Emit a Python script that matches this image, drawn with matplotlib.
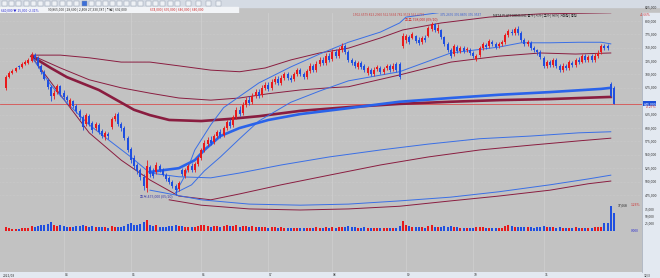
import matplotlib
matplotlib.use('Agg')
import matplotlib.pyplot as plt
import numpy as np
from matplotlib.patches import Rectangle

plt.rcParams['font.family'] = ['Noto Sans CJK KR', 'DejaVu Sans']

# 일봉 시가/고가/저가/종가 (천원), 거래량 (천주)
opens = [675, 695, 703, 706, 716, 714, 719, 721, 725, 736,
         731, 716, 705, 690, 677, 660, 667, 678, 665, 658,
         641, 650, 641, 632, 621, 607, 622, 609, 600, 606,
         594, 583, 589, 602, 617, 626, 607, 600, 581, 561,
         544, 531, 522, 509, 488, 527, 518, 518, 529, 522,
         512, 507, 499, 492, 486, 522, 510, 522, 529, 522,
         533, 544, 559, 570, 578, 574, 585, 593, 587, 600,
         611, 606, 621, 634, 628, 643, 652, 649, 660, 667,
         662, 675, 680, 675, 686, 692, 684, 693, 701, 693,
         692, 701, 708, 701, 695, 706, 716, 708, 719, 727,
         721, 734, 729, 742, 734, 746, 753, 742, 727, 723,
         714, 721, 716, 703, 708, 701, 710, 712, 705, 712,
         716, 710, 719, 719, 753, 764, 770, 768, 772, 764,
         760, 768, 772, 785, 794, 781, 783, 770, 757, 746,
         738, 751, 744, 749, 746, 746, 740, 729, 736, 749,
         755, 753, 760, 757, 753, 757, 760, 774, 779, 777,
         785, 777, 764, 757, 759, 749, 746, 742, 731, 716,
         723, 718, 727, 716, 708, 716, 712, 721, 718, 727,
         723, 734, 727, 734, 727, 734, 742, 753, 753, 682,
         675]
highs = [699, 706, 710, 714, 718, 723, 727, 731, 742, 740,
         734, 719, 708, 693, 680, 671, 682, 680, 671, 662,
         656, 652, 645, 635, 624, 628, 626, 613, 611, 609,
         598, 594, 593, 621, 628, 630, 611, 604, 585, 565,
         550, 535, 525, 514, 540, 531, 525, 537, 533, 525,
         516, 510, 503, 496, 501, 525, 525, 533, 535, 537,
         548, 563, 578, 583, 585, 589, 596, 598, 604, 615,
         617, 624, 639, 641, 649, 658, 660, 665, 673, 673,
         680, 686, 686, 692, 697, 697, 699, 705, 705, 699,
         705, 712, 712, 705, 710, 721, 719, 725, 733, 733,
         740, 740, 747, 747, 751, 759, 757, 746, 731, 727,
         725, 725, 719, 716, 712, 714, 718, 716, 714, 719,
         719, 721, 723, 723, 777, 775, 774, 779, 774, 770,
         772, 774, 790, 798, 796, 794, 785, 772, 760, 749,
         757, 755, 753, 753, 751, 749, 744, 738, 753, 760,
         759, 766, 764, 760, 760, 764, 777, 785, 785, 789,
         790, 781, 768, 764, 762, 753, 747, 746, 734, 727,
         727, 731, 731, 719, 721, 719, 727, 725, 731, 733,
         738, 738, 736, 738, 740, 746, 757, 757, 757, 686,
         678]
lows = [671, 693, 701, 705, 710, 712, 718, 719, 723, 727,
        712, 701, 690, 673, 650, 654, 664, 660, 654, 649,
        637, 637, 628, 615, 596, 604, 604, 591, 596, 589,
        581, 578, 580, 598, 613, 604, 594, 578, 555, 535,
        524, 514, 503, 484, 481, 509, 507, 514, 518, 510,
        501, 496, 488, 475, 482, 510, 507, 518, 518, 518,
        529, 540, 555, 566, 568, 570, 581, 581, 583, 596,
        600, 602, 617, 622, 624, 639, 643, 645, 656, 656,
        658, 671, 669, 671, 682, 680, 680, 690, 690, 686,
        688, 697, 697, 692, 692, 703, 705, 705, 716, 718,
        718, 723, 725, 731, 731, 742, 738, 723, 718, 712,
        710, 710, 705, 699, 697, 697, 706, 701, 701, 708,
        705, 706, 705, 692, 749, 759, 757, 766, 759, 755,
        757, 760, 770, 781, 779, 777, 766, 753, 742, 731,
        734, 740, 740, 740, 742, 736, 731, 725, 733, 746,
        747, 749, 753, 747, 749, 753, 757, 770, 774, 774,
        774, 760, 753, 753, 746, 742, 736, 729, 712, 712,
        714, 714, 712, 705, 705, 708, 708, 714, 714, 719,
        721, 723, 723, 723, 723, 731, 738, 746, 746, 658,
        645]
closes = [695, 703, 706, 712, 714, 719, 723, 727, 736, 731,
          716, 705, 692, 677, 660, 665, 678, 664, 658, 652,
          652, 641, 632, 621, 602, 624, 607, 596, 607, 593,
          585, 591, 585, 617, 622, 607, 600, 581, 559, 540,
          529, 520, 509, 492, 529, 514, 510, 531, 522, 512,
          505, 499, 492, 484, 497, 514, 522, 529, 522, 533,
          544, 559, 572, 578, 572, 585, 593, 585, 600, 611,
          604, 621, 634, 626, 643, 652, 647, 660, 667, 660,
          675, 680, 673, 686, 692, 684, 693, 701, 693, 690,
          701, 708, 701, 695, 706, 716, 708, 719, 727, 721,
          734, 727, 742, 734, 746, 753, 742, 727, 721, 716,
          721, 714, 708, 712, 701, 708, 714, 705, 710, 716,
          708, 716, 708, 695, 772, 772, 760, 775, 762, 759,
          768, 764, 787, 794, 783, 787, 770, 757, 746, 734,
          753, 744, 749, 744, 747, 740, 734, 734, 749, 757,
          751, 762, 757, 751, 757, 760, 774, 781, 777, 785,
          777, 764, 757, 760, 749, 746, 742, 733, 716, 723,
          718, 727, 716, 708, 716, 712, 723, 718, 727, 723,
          734, 727, 733, 727, 734, 740, 753, 749, 749, 660,
          645]
volumes = [12, 9, 8, 8, 7, 9, 10, 11, 16, 14,
           18, 20, 22, 24, 30, 22, 18, 20, 16, 14,
           15, 14, 16, 18, 22, 17, 14, 16, 13, 15,
           14, 12, 11, 16, 13, 12, 14, 18, 24, 26,
           22, 20, 24, 30, 36, 22, 18, 20, 15, 14,
           15, 16, 17, 20, 18, 16, 14, 13, 12, 14,
           16, 20, 22, 18, 15, 17, 16, 14, 18, 20,
           16, 18, 20, 15, 18, 17, 14, 16, 15, 13,
           14, 12, 11, 13, 12, 10, 12, 11, 9, 10,
           11, 10, 9, 10, 9, 11, 10, 12, 11, 10,
           12, 10, 13, 11, 12, 14, 15, 16, 13, 12,
           11, 10, 12, 11, 10, 9, 10, 11, 10, 9,
           10, 9, 11, 18, 34, 22, 16, 14, 12, 13,
           12, 11, 16, 20, 15, 13, 14, 16, 15, 17,
           14, 12, 11, 10, 9, 11, 10, 12, 13, 12,
           10, 11, 10, 9, 10, 11, 18, 22, 16, 15,
           13, 15, 14, 12, 13, 11, 12, 14, 18, 15,
           12, 13, 11, 12, 10, 9, 11, 10, 12, 10,
           11, 10, 9, 10, 12, 14, 14, 26, 28, 85,
           62]

# 월 구분 (봉 번호)
month_idx = [18, 39, 61, 82, 102, 125, 146, 168]
month_lbl = ['04', '05', '06', '07', '08', '09', '10', '11']
first_lbl = '2021/03'

# 지표선 (봉 번호, 천원)
m_up_x = [8, 17, 26, 36, 45, 54, 64, 73, 81, 89, 98, 107, 117, 124, 136, 151, 167, 189]
m_up_y = [736, 736, 731, 723, 723, 716, 708, 705, 712, 727, 740, 749, 768, 783, 796, 807, 813, 815]
m_mid_x = [8, 17, 26, 36, 45, 54, 64, 73, 82, 92, 101, 107, 123, 139, 154, 167, 178, 189]
m_mid_y = [736, 712, 690, 675, 665, 656, 652, 656, 664, 671, 675, 677, 699, 723, 734, 740, 738, 740]
m_thick_x = [8, 14, 19, 29, 40, 45, 51, 61, 70, 79, 92, 107, 123, 139, 154, 170, 189]
m_thick_y = [734, 712, 695, 671, 634, 624, 615, 613, 617, 622, 632, 639, 645, 649, 652, 654, 658]
m_low1_x = [8, 17, 26, 36, 45, 54, 64, 73, 86, 101, 117, 132, 148, 164, 179, 189]
m_low1_y = [733, 662, 591, 540, 503, 473, 466, 477, 494, 512, 531, 546, 559, 568, 576, 581]
m_low2_x = [51, 61, 76, 92, 107, 123, 139, 154, 170, 182, 189]
m_low2_y = [466, 456, 449, 447, 449, 454, 464, 473, 484, 496, 501]

b_thick_x = [45, 50, 54, 59, 62, 67, 73, 82, 92, 107, 123, 139, 154, 170, 186, 189]
b_thick_y = [518, 522, 525, 540, 559, 585, 600, 615, 626, 637, 649, 656, 662, 667, 673, 675]
b_low1_x = [8, 14, 19, 26, 32, 39, 45, 54, 64, 73, 86, 101, 117, 132, 148, 164, 179, 189]
b_low1_y = [733, 680, 647, 606, 578, 546, 516, 509, 507, 516, 531, 546, 559, 570, 580, 585, 591, 593]
b_low2_x = [45, 61, 76, 92, 107, 123, 139, 154, 170, 182, 189]
b_low2_y = [484, 466, 458, 456, 458, 464, 471, 481, 494, 505, 512]
b_up1_x = [53, 58, 62, 67, 73, 79, 89, 98, 107, 123, 139, 154, 161, 170, 179, 186, 189]
b_up1_y = [479, 494, 520, 546, 580, 613, 648, 669, 688, 705, 740, 751, 759, 759, 760, 760, 757]
b_up2_x = [53, 56, 59, 64, 68, 73, 79, 89, 98, 107, 117, 123, 125, 135, 145, 161, 189]
b_up2_y = [479, 512, 559, 606, 638, 659, 684, 714, 738, 760, 779, 796, 807, 815, 828, 835, 835]

RED = '#e8191c'
BLUE = '#1f4fe0'
MAROON = '#8a1d40'
LBLUE = '#3a6fe6'
BG = '#c2c2c2'
PANEL = '#e3e9f1'

o = np.array(opens, float)
h = np.array(highs, float)
l = np.array(lows, float)
c = np.array(closes, float)
v = np.array(volumes, float)
n = len(c)
x = np.arange(n)
cols = np.where(c >= o, RED, BLUE)


def fx(p):
    return p / 660.0


def fy(p):
    return 1 - p / 278.0


fig = plt.figure(figsize=(6.6, 2.78), dpi=100, facecolor=BG)

# 배경 패널 (축보다 아래에)
fig.patches.append(Rectangle((fx(642), fy(272)), fx(18), 259 / 278.0,
                             transform=fig.transFigure, color=PANEL, zorder=-5))
fig.patches.append(Rectangle((0, 0), 1, 6 / 278.0, transform=fig.transFigure,
                             color=PANEL, zorder=-5))
fig.patches.append(Rectangle((0, fy(7)), 1, 7 / 278.0, transform=fig.transFigure,
                             color='#d5dbe4', zorder=-5))
fig.patches.append(Rectangle((0, fy(13)), fx(238), 6 / 278.0,
                             transform=fig.transFigure, color='#f2f4f7', zorder=-5))

ax = fig.add_axes([0, fy(272), fx(642), 259 / 278.0])
ax.set_facecolor(BG)
ax.set_xlim(-1.875, 198.75)
ax.set_ylim(331.3, 814.6)
for s in ax.spines.values():
    s.set_visible(False)
ax.set_xticks([])
ax.set_yticks([])

vax = fig.add_axes([0, fy(232), fx(642), 29 / 278.0])
vax.patch.set_alpha(0)
vax.set_xlim(ax.get_xlim())
vax.set_ylim(-3.4, 95.4)
vax.axis('off')

# 격자
for p in range(475, 826, 25):
    ax.axhline(p, color='#cfcfcf', lw=0.4, ls=(0, (1, 1.5)), zorder=0)
for m in month_idx:
    ax.axvline(m, color='#d0d0d0', lw=0.5, zorder=0)

# 지표선
ax.plot(m_up_x, m_up_y, color=MAROON, lw=0.7, zorder=2)
ax.plot(m_mid_x, m_mid_y, color=MAROON, lw=0.7, zorder=2)
ax.plot(m_low1_x, m_low1_y, color=MAROON, lw=0.7, zorder=2)
ax.plot(m_low2_x, m_low2_y, color=MAROON, lw=0.7, zorder=2)
ax.plot(m_thick_x, m_thick_y, color=MAROON, lw=1.9, zorder=2)
ax.plot(b_up1_x, b_up1_y, color=LBLUE, lw=0.7, zorder=2)
ax.plot(b_up2_x, b_up2_y, color=LBLUE, lw=0.7, zorder=2)
ax.plot(b_low1_x, b_low1_y, color=LBLUE, lw=0.7, zorder=2)
ax.plot(b_low2_x, b_low2_y, color=LBLUE, lw=0.7, zorder=2)
ax.plot(b_thick_x, b_thick_y, color='#2a63ea', lw=1.9, zorder=2)

# 현재가 라인
ax.axhline(c[-1], color='#d85050', lw=0.6, zorder=1)

# 캔들
ax.vlines(x, l, h, colors=cols, lw=0.6, zorder=3)
ax.bar(x, np.maximum(np.abs(c - o), 1.3), bottom=np.minimum(o, c),
       width=0.66, color=cols, linewidth=0, zorder=4)

# 거래량
vax.bar(x, v, width=0.66, color=cols, linewidth=0)

# 최고 / 최저 표시
hi = int(np.argmax(h))
lo = int(np.argmin(l))
ax.text(hi + 2, h[hi] + 1, '최고 %d,000 (09/10)' % h[hi], fontsize=2.6,
        color='#d02828', ha='right', va='bottom', zorder=5)
ax.text(lo - 1, l[lo] - 2, '최저 %d,000 (05/20)' % l[lo], fontsize=2.6,
        color='#3838a8', ha='right', va='center', zorder=5)

# 오른쪽 가격축
fig.lines.append(plt.Line2D([fx(642), fx(642)], [fy(272), fy(13)],
                            transform=fig.transFigure, color='#8d96a3', lw=0.4))
ytr = ax.get_yaxis_transform()
for p in range(475, 826, 25):
    if abs(p - c[-1]) < 12:
        continue
    ax.text(1.004, p, '{:,}'.format(p * 1000), transform=ytr, fontsize=2.5,
            color='#303030', va='center', ha='left', clip_on=False)
ax.text(1.002, c[-1], '{:,}'.format(int(c[-1]) * 1000), transform=ytr,
        fontsize=2.6, color='white', va='center', ha='left', clip_on=False,
        bbox=dict(boxstyle='square,pad=0.15', fc='#1d4fd8', ec='none'))
ax.text(1.006, c[-1] - 6.5, '-2.27%', transform=ytr, fontsize=2.3,
        color='#d02828', va='center', ha='left', clip_on=False)

vtr = vax.get_yaxis_transform()
for q in [25, 50, 75]:
    vax.text(1.004, q, '{:,}'.format(q * 1000), transform=vtr, fontsize=2.4,
             color='#303030', va='center', ha='left', clip_on=False)
vax.text(0.995, 0, '0.000', transform=vtr, fontsize=2.4, color='#2a2ad0',
         va='center', ha='right', clip_on=False)
vax.text(0.978, 88, '17,668', transform=vtr, fontsize=2.4, color='#202020',
         va='center', ha='right', clip_on=False)
vax.text(0.997, 88, '1.23%', transform=vtr, fontsize=2.4, color='#d02828',
         va='center', ha='right', clip_on=False)

# 날짜축
xtr = ax.get_xaxis_transform()
ax.text(-1.0, -0.004, first_lbl, transform=xtr, fontsize=2.4, color='#303030',
        va='top', ha='left', clip_on=False)
for m, lbl in zip(month_idx, month_lbl):
    ax.text(m + 0.3, -0.004, lbl, transform=xtr, fontsize=2.4, color='#303030',
            va='top', ha='left', clip_on=False)
fig.text(fx(644), fy(275.5), '12/3', fontsize=2.4, color='#303030', va='center')

# 상단 툴바
btn_x = [2, 9, 16, 24, 31, 38, 45, 52, 60, 67, 74, 82, 89, 96, 103, 110,
         117, 124, 131, 138, 146, 153, 160, 168, 175, 186, 196, 206, 216]
for k, bx in enumerate(btn_x):
    fc = '#3c6fd8' if k == 11 else '#eef1f5'
    fig.patches.append(Rectangle((fx(bx), fy(6)), fx(5), 4.5 / 278.0,
                                 transform=fig.transFigure, fc=fc,
                                 ec='#8c97a8', lw=0.3))
fig.text(fx(1), fy(10), '640,000 ▼ 15,000 -2.31%', fontsize=2.4,
         color='#2a2ad0', va='center')
fig.text(fx(48), fy(10), '90,865,000 | 28,600 | 2,408 27,330,787 | 기관 | 692,000',
         fontsize=2.4, color='#303030', va='center')
fig.text(fx(150), fy(10), '674,000 | 676,000 | 646,000 | 640,000', fontsize=2.4,
         color='#d02828', va='center')

# 지표 범례
fig.text(fx(353), fy(15.5), '1502.6579 823.2960 562.5634 782.9578 562.6779',
         fontsize=2.3, color='#c84848', va='center')
fig.text(fx(440), fy(15.5), '375.2676 376.8876 376.9537', fontsize=2.3,
         color='#3a5fd0', va='center')
fig.text(fx(493), fy(15.5), 'META PLATFORMS INC 종가 | 시가 | 고가 | 저가 | 거래량 | 등락',
         fontsize=2.3, color='#202020', va='center')
fig.text(fx(640), fy(15.5), '+1.66%', fontsize=2.3, color='#d02828', va='center')

fig.savefig('out.png', dpi=100, facecolor=BG)
